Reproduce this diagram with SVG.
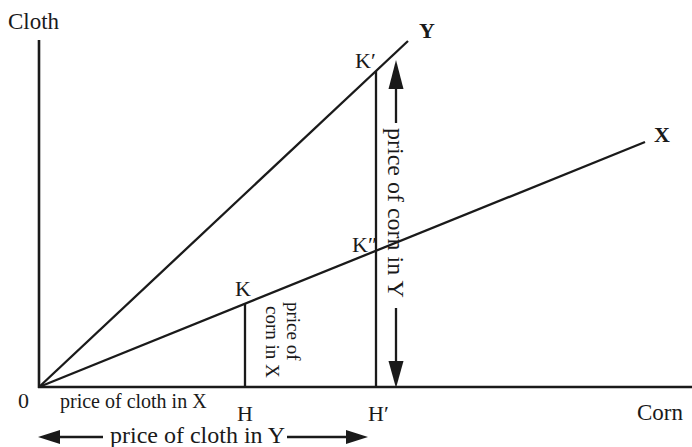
<svg xmlns="http://www.w3.org/2000/svg" width="692" height="447" viewBox="0 0 692 447">
<style>
text{font-family:"Liberation Serif","Times New Roman",serif;fill:#1a1a1a}
.ax{stroke:#1a1a1a;stroke-width:2.6;fill:none}
.ln{stroke:#1a1a1a;stroke-width:2.3;fill:none}
.hd{fill:#1a1a1a}
.b{font-weight:bold}
</style>
<rect width="692" height="447" fill="#fff"/>
<g id="axes">
<line class="ax" x1="39" y1="40" x2="39" y2="388"/>
<line class="ax" x1="38" y1="387" x2="692" y2="387"/>
<text x="8" y="29" font-size="23">Cloth</text>
<text x="637" y="420" font-size="23">Corn</text>
<text x="18" y="408" font-size="22">0</text>
</g>
<g id="connectors">
<line class="ln" x1="39" y1="387" x2="408" y2="41"/>
<line class="ln" x1="39" y1="387" x2="645" y2="142"/>
<line class="ln" x1="245" y1="304" x2="245" y2="387"/>
<line class="ln" x1="376" y1="71" x2="376" y2="387"/>
<line class="ln" x1="396" y1="86" x2="396" y2="123"/>
<line class="ln" x1="396" y1="308" x2="396" y2="364"/>
<polygon class="hd" points="396,60 388.5,89 403.5,89"/>
<polygon class="hd" points="396,388 388.5,361 403.5,361"/>
<line class="ln" x1="56" y1="437" x2="103" y2="437"/>
<line class="ln" x1="287" y1="437" x2="348" y2="437"/>
<polygon class="hd" points="38,437 60,430 60,444"/>
<polygon class="hd" points="368,437 346,430 346,444"/>
</g>
<g id="lineY"><text class="b" x="419" y="38" font-size="22">Y</text></g>
<g id="lineX"><text class="b" x="654" y="142" font-size="22">X</text></g>
<g id="K"><text x="235" y="296" font-size="22">K</text></g>
<g id="Kp"><text x="355" y="68" font-size="22">K′</text></g>
<g id="Kpp"><text x="352" y="252" font-size="22">K″</text></g>
<g id="H"><text x="237" y="421" font-size="22">H</text></g>
<g id="Hp"><text x="368" y="421" font-size="22">H′</text></g>
<g id="labels">
<text x="60" y="408" font-size="20">price of cloth in X</text>
<text x="110" y="443" font-size="24">price of cloth in Y</text>
<text transform="translate(388,128) rotate(90)" font-size="24">price of corn in Y</text>
<text transform="translate(287,302) rotate(90)" font-size="19">price of</text>
<text transform="translate(266,306) rotate(90)" font-size="19">corn in X</text>
</g>
</svg>
